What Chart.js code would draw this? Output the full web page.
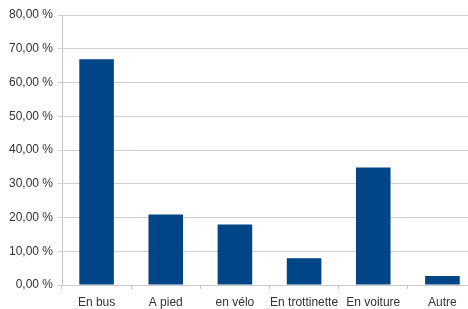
<!DOCTYPE html>
<html>
<head>
<meta charset="utf-8">
<script src="https://cdn.jsdelivr.net/npm/chart.js@4"></script>
<style>
  html, body { margin: 0; padding: 0; background: #fff; overflow: hidden; }
  #wrap { width: 477px; height: 309px; }
</style>
</head>
<body>
<div id="wrap"><canvas id="myChart" width="477" height="309"></canvas></div>
<script>
const categories = ['En bus', 'A pied', 'en vélo', 'En trottinette', 'En voiture', 'Autre'];
const values = [66.9, 20.9, 17.9, 7.9, 34.8, 2.7];
const yTicks = [0, 10, 20, 30, 40, 50, 60, 70, 80];

function formatPercent(v){
    return v.toFixed(2).replace('.', ',') + ' %';
}

const ctx = document.getElementById('myChart');

new Chart(ctx, {
    type: 'bar',
    data: {
        labels: categories,
        datasets: [{
            data: values,
            backgroundColor: '#004586',
            borderWidth: 0,
            barPercentage: 0.5,
            categoryPercentage: 1
        }]
    },
    options: {
        responsive: false,
        animation: false,
        layout: { padding: { top: 15, right: 0, left: 0, bottom: 0 } },
        plugins: { legend: { display: false }, tooltip: { enabled: false } },
        scales: {
            x: {
                grid: { drawOnChartArea: false, drawTicks: true, tickLength: 4, color: '#c8c8c8', offset: true },
                border: { color: '#c8c8c8' },
                ticks: { color: '#333', font: { family: 'Liberation Sans', size: 12 }, padding: 6, maxRotation: 0, autoSkip: false },
                afterFit: (scale) => { scale.height = 24; }
            },
            y: {
                min: 0,
                max: 80,
                grid: { color: '#d0d0d0', tickLength: 4 },
                border: { color: '#c8c8c8' },
                afterBuildTicks: (scale) => { scale.ticks = yTicks.map(v => ({ value: v })); },
                ticks: {
                    color: '#333',
                    font: { family: 'Liberation Sans', size: 12 },
                    padding: 5,
                    callback: (v) => formatPercent(v)
                },
                afterFit: (scale) => { scale.width = 62; }
            }
        }
    }
});
</script>
</body>
</html>
